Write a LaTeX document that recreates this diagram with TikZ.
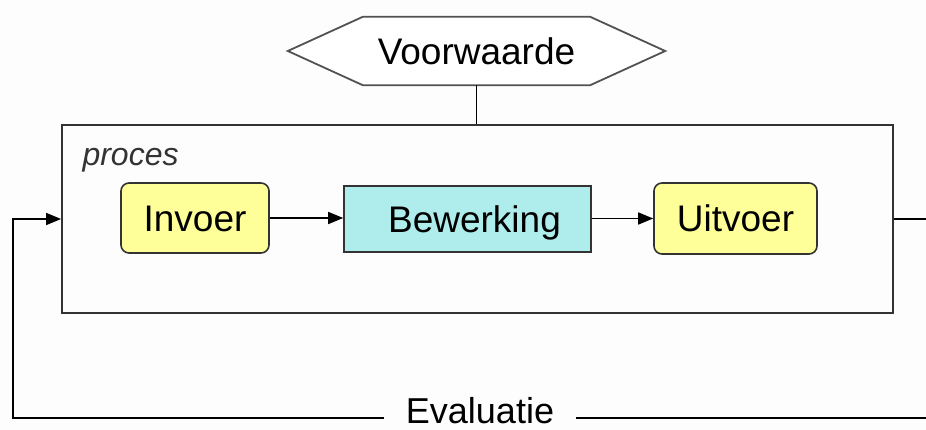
\documentclass[tikz,border=0pt]{standalone}
\usepackage{fontspec}
\setmainfont{Liberation Sans}
\usetikzlibrary{arrows.meta,calc}
\definecolor{bg}{HTML}{FDFDFD}
\definecolor{yel}{HTML}{FFFF99}
\definecolor{cyn}{HTML}{AFEDED}
\definecolor{edge}{HTML}{333333}
\tikzset{
  lbl/.style={font=\fontsize{37}{40}\selectfont, text=black, text height=27pt, text depth=0pt},
  yelbox/.style={lbl, draw=edge, line width=1.6pt, fill=yel, rounded corners=8pt, inner sep=0pt},
  cynbox/.style={lbl, draw=edge, line width=1.6pt, fill=cyn, inner sep=0pt},
  flow/.style={line width=1.6pt, draw=black, -{Triangle[length=15pt,width=12pt]}},
  plain/.style={line width=1.6pt, draw=black}
}
\begin{document}
\begin{tikzpicture}[x=1pt,y=-1pt]
\fill[bg] (0,0) rectangle (926,430);
\useasboundingbox (0,0) rectangle (926,430);
% process frame
\node[draw=edge, line width=1.8pt, minimum width=831pt, minimum height=188pt, inner sep=0pt] (proc) at (477.5,219) {};
\node[anchor=base west, font=\fontsize{32}{34}\selectfont\itshape, text=edge] (plabel) at (79,166) {proces};
% condition hexagon
\node[lbl, minimum width=377pt, minimum height=68pt, inner sep=0pt] (voor) at (476.5,51) {};
\draw[draw=edge!85, line width=1.8pt, fill=white]
  (voor.west) -- ($(voor.north west)+(75,0)$) -- ($(voor.north east)+(-75,0)$)
  -- (voor.east) -- ($(voor.south east)+(-75,0)$) -- ($(voor.south west)+(75,0)$) -- cycle;
\node[lbl, inner sep=0pt] (voortext) at (voor.center) {Voorwaarde};
\draw[plain] (voor.south) -- (voor.south |- proc.north);
% inner boxes
\node[yelbox, minimum width=148pt, minimum height=70pt] (inv) at (195,218) {Invoer};
\node[cynbox, minimum width=247pt, minimum height=66pt] (bew) at (467.5,219) {\hspace*{14pt}Bewerking};
\node[yelbox, minimum width=163pt, minimum height=71pt] (uit) at (735.5,218.5) {Uitvoer};
\draw[flow] (inv.east) -- (bew.west |- inv.east);
\draw[flow] (bew.east |- uit.west) -- (uit.west);
% feedback loop
\coordinate (rEnd) at (926,219);
\coordinate (bl) at (13,418);
\coordinate (br) at (926,418);
\draw[plain] (proc.east) -- (rEnd);
\node[font=\fontsize{36}{40}\selectfont, inner xsep=22pt, inner ysep=0pt, text height=25pt, text depth=0pt] (eval) at (480,411) {Evaluatie};
\draw[plain] (br) -- (eval.east |- br);
\draw[flow] (eval.west |- bl) -- (bl) |- (proc.west);
\end{tikzpicture}
\end{document}
